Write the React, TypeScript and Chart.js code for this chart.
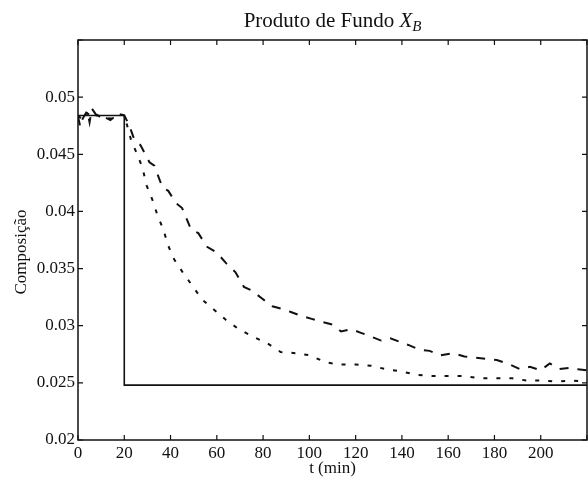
import React, { useEffect, useRef } from "react";
import { Chart, registerables } from "chart.js";

Chart.register(...registerables);

const FONT = "'Liberation Serif', 'Times New Roman', serif";

// Solid line: set-point step
const tSolid = [0, 20, 20, 220];
const ySolid = [0.0484, 0.0484, 0.0248, 0.0248];

// Long-dashed line
const tLong = [0, 1, 2, 4, 5, 6, 8, 10, 12, 14, 16, 18, 20, 22, 24.5, 27, 30.9, 33, 36.5, 39, 42.5, 45, 48.9, 52, 55.8, 60, 63.9, 68, 71.7, 75, 79.4, 84, 87.6, 92, 96, 101, 106, 110, 113.7, 118, 122, 126, 131, 135, 139, 143, 147.6, 152, 156.7, 162, 167, 172, 176.8, 181, 186.7, 191, 195.3, 200, 203.9, 208, 212.4, 216, 220];
const yLong = [0.0483, 0.0474, 0.0481, 0.0488, 0.0478, 0.049, 0.0484, 0.0484, 0.0482, 0.048, 0.0483, 0.0485, 0.0484, 0.0476, 0.0462, 0.0458, 0.0443, 0.044, 0.0421, 0.0418, 0.0407, 0.0403, 0.0384, 0.0381, 0.0369, 0.0364, 0.0355, 0.0347, 0.0334, 0.0331, 0.0324, 0.0317, 0.0315, 0.0312, 0.0309, 0.0306, 0.0303, 0.0301, 0.0295, 0.0297, 0.0294, 0.0291, 0.0287, 0.0289, 0.0286, 0.0283, 0.0279, 0.0278, 0.0274, 0.0276, 0.0273, 0.0272, 0.0271, 0.027, 0.0266, 0.0262, 0.0264, 0.0261, 0.0267, 0.0262, 0.0263, 0.0262, 0.0261];

// Short-dashed line
const tShort = [0, 2, 4, 6, 8, 10, 12, 14, 16, 18, 20, 21, 23, 25.8, 27.9, 29.6, 32.2, 34.3, 36.9, 39, 41.6, 45.5, 49.4, 53.6, 58.8, 64, 69.5, 76, 81.5, 87.6, 94, 100.4, 106.9, 113.3, 120.2, 126.6, 133, 139.5, 146.8, 153.2, 160.5, 167, 173.8, 180.3, 187.6, 194, 200.4, 206.9, 213.3, 220];
const yShort = [0.0484, 0.048, 0.0486, 0.0483, 0.0485, 0.0482, 0.0483, 0.0481, 0.0484, 0.0485, 0.0484, 0.0477, 0.0462, 0.0449, 0.0438, 0.0423, 0.041, 0.0397, 0.0384, 0.037, 0.0358, 0.0346, 0.0335, 0.0323, 0.0314, 0.0305, 0.0297, 0.029, 0.0285, 0.0277, 0.0276, 0.0274, 0.0268, 0.0266, 0.0266, 0.0265, 0.0262, 0.026, 0.0257, 0.0256, 0.0256, 0.0256, 0.0254, 0.0254, 0.0254, 0.0252, 0.0252, 0.0251, 0.0252, 0.0251];

const xTicksMin = 0;
const xTicksMax = 220;
const xStep = 20;
const yMin = 0.02;
const yMax = 0.055;
const yStep = 0.005;

const titleText = "Produto de Fundo ";
const xTitle = "t (min)";
const yTitle = "Composição";

const toXY = (xs: number[], ys: number[]) => xs.map((x, i) => ({ x, y: ys[i] }));

const framePlugin = {
  id: "frame",
  afterDraw(chart: any) {
    const { ctx, chartArea } = chart;
    const { left, right, top, bottom } = chartArea;
    const xs = chart.scales.x;
    const ys = chart.scales.y;
    ctx.save();
    ctx.strokeStyle = "#111";
    ctx.lineWidth = 1.5;
    ctx.setLineDash([]);
    ctx.strokeRect(left, top, right - left, bottom - top);
    ctx.lineWidth = 1.2;
    const L = 5;
    xs.ticks.forEach((t: any) => {
      const px = xs.getPixelForValue(t.value);
      ctx.beginPath();
      ctx.moveTo(px, bottom);
      ctx.lineTo(px, bottom - L);
      ctx.moveTo(px, top);
      ctx.lineTo(px, top + L);
      ctx.stroke();
    });
    ys.ticks.forEach((t: any) => {
      const py = ys.getPixelForValue(t.value);
      ctx.beginPath();
      ctx.moveTo(left, py);
      ctx.lineTo(left + L, py);
      ctx.moveTo(right, py);
      ctx.lineTo(right - L, py);
      ctx.stroke();
    });
    // Title with subscript
    ctx.fillStyle = "#111";
    ctx.textBaseline = "alphabetic";
    ctx.textAlign = "left";
    ctx.font = `21px ${FONT}`;
    const w1 = ctx.measureText(titleText).width;
    ctx.font = `italic 21px ${FONT}`;
    const w2 = ctx.measureText("X").width;
    ctx.font = `italic 15px ${FONT}`;
    const w3 = ctx.measureText("B").width;
    const total = w1 + w2 + w3;
    const cx = (left + right) / 2;
    let x0 = cx - total / 2;
    const base = 27;
    ctx.font = `21px ${FONT}`;
    ctx.fillText(titleText, x0, base);
    x0 += w1;
    ctx.font = `italic 21px ${FONT}`;
    ctx.fillText("X", x0, base);
    x0 += w2;
    ctx.font = `italic 15px ${FONT}`;
    ctx.fillText("B", x0, base + 4);
    // Y axis title
    ctx.save();
    ctx.translate(22, 252);
    ctx.rotate(-Math.PI / 2);
    ctx.textAlign = "center";
    ctx.textBaseline = "middle";
    ctx.font = `17px ${FONT}`;
    ctx.fillText(yTitle, 0, 0);
    ctx.restore();
    ctx.restore();
  },
};

export default function App() {
  const ref = useRef<HTMLCanvasElement>(null);
  useEffect(() => {
    if (!ref.current) return;
    const chart = new Chart(ref.current, {
      type: "line",
      data: {
        datasets: [
          {
            data: toXY(tSolid, ySolid),
            borderColor: "#111",
            borderWidth: 1.6,
            pointRadius: 0,
            tension: 0,
          },
          {
            data: toXY(tLong, yLong),
            borderColor: "#111",
            borderWidth: 2,
            borderDash: [9, 9],
            pointRadius: 0,
            tension: 0,
          },
          {
            data: toXY(tShort, yShort),
            borderColor: "#111",
            borderWidth: 2,
            borderDash: [4, 9],
            pointRadius: 0,
            tension: 0,
          },
        ],
      },
      options: {
        animation: false,
        responsive: false,
        devicePixelRatio: 1,
        layout: { padding: { top: 40, right: 2, left: 0, bottom: 0 } },
        plugins: {
          legend: { display: false },
          title: { display: false },
          tooltip: { enabled: false },
        },
        scales: {
          x: {
            type: "linear",
            min: xTicksMin,
            max: xTicksMax,
            grid: { display: false, drawTicks: false, tickLength: 0 },
            border: { display: false },
            ticks: {
              stepSize: xStep,
              color: "#111",
              padding: 3,
              maxRotation: 0,
              autoSkip: false,
              font: { family: FONT, size: 17 },
              callback: (v: any) => (v === xTicksMax ? "" : String(v)),
            },
            title: {
              display: true,
              text: xTitle,
              color: "#111",
              font: { family: FONT, size: 17 },
              padding: { top: 0, bottom: 1 },
            },
            afterFit: (s: any) => {
              s.height = 40;
            },
          },
          y: {
            type: "linear",
            min: yMin,
            max: yMax,
            grid: { display: false, drawTicks: false, tickLength: 0 },
            border: { display: false },
            ticks: {
              stepSize: yStep,
              color: "#111",
              padding: 3,
              font: { family: FONT, size: 17 },
              callback: (v: any) => {
                const n = Number(Number(v).toFixed(3));
                return Math.abs(n - yMax) < 1e-9 ? "" : String(n);
              },
            },
            title: { display: false },
            afterFit: (s: any) => {
              s.width = 78;
            },
          },
        },
      },
      plugins: [framePlugin],
    });
    return () => chart.destroy();
  }, []);
  return (
    <div style={{ position: "fixed", left: 0, top: 0, width: 588, height: 480, overflow: "hidden", background: "#fff" }}>
      <canvas ref={ref} width={590} height={480} style={{ display: "block" }} />
    </div>
  );
}
